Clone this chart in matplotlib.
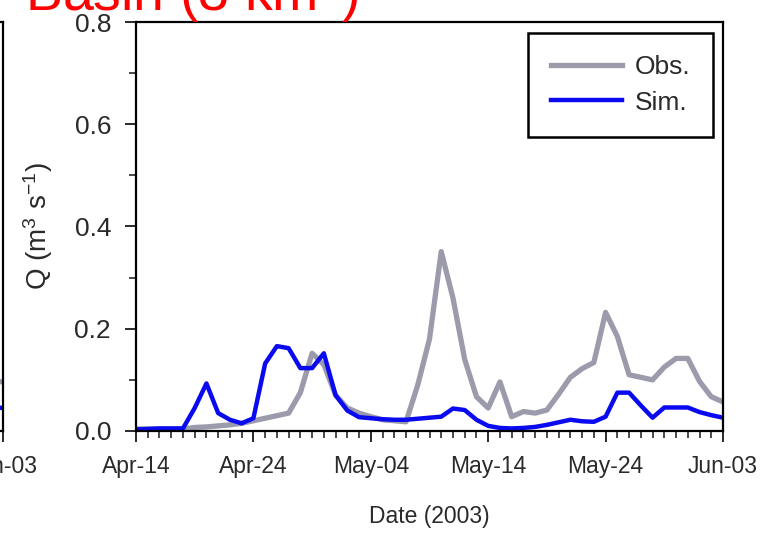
import datetime
import matplotlib
matplotlib.use("Agg")
import matplotlib.pyplot as plt
import matplotlib.dates as mdates
from matplotlib.ticker import MultipleLocator

plt.rcParams.update({
    "font.family": ["Liberation Sans", "DejaVu Sans"],
    "mathtext.default": "regular",
    "font.size": 18,
})

start = datetime.date(2003, 4, 14)
dates = [start + datetime.timedelta(days=i) for i in range(51)]

obs = [0.004, 0.004, 0.004, 0.004, 0.004, 0.007, 0.008, 0.010, 0.012, 0.015,
       0.020, 0.025, 0.030, 0.035, 0.075, 0.152, 0.130, 0.070, 0.045, 0.035,
       0.028, 0.022, 0.020, 0.018, 0.090, 0.180, 0.351, 0.260, 0.140, 0.067,
       0.045, 0.096, 0.028, 0.038, 0.035, 0.041, 0.072, 0.105, 0.122, 0.134,
       0.232, 0.185, 0.110, 0.105, 0.100, 0.125, 0.142, 0.142, 0.097, 0.067,
       0.057]
sim = [0.003, 0.004, 0.005, 0.005, 0.005, 0.045, 0.093, 0.035, 0.022, 0.015,
       0.025, 0.132, 0.166, 0.162, 0.123, 0.123, 0.152, 0.070, 0.040, 0.027,
       0.025, 0.023, 0.022, 0.022, 0.024, 0.026, 0.028, 0.044, 0.041, 0.022,
       0.010, 0.006, 0.005, 0.006, 0.008, 0.012, 0.017, 0.022, 0.019, 0.018,
       0.028, 0.075, 0.075, 0.050, 0.026, 0.046, 0.046, 0.046, 0.037, 0.031,
       0.026]

# tail of the neighbouring panel (cropped in the reference)
left_dates = [datetime.date(2003, 6, 2), datetime.date(2003, 6, 3)]
left_obs = [0.098, 0.096]
left_sim = [0.047, 0.045]

obs_color = "#9b9bab"
sim_color = "#0a0af0"
tick_color = "#2a2a2a"

W, H = 763, 536
fig = plt.figure(figsize=(W / 100, H / 100), dpi=100)

ax_l, ax_r, ax_t, ax_b = 136, 723, 22, 431
pos = [ax_l / W, (H - ax_b) / H, (ax_r - ax_l) / W, (ax_b - ax_t) / H]


def style_axes(a):
    for s in a.spines.values():
        s.set_linewidth(1.6)
    a.set_ylim(0, 0.8)
    a.set_xlim(datetime.date(2003, 4, 14), datetime.date(2003, 6, 3))
    a.yaxis.set_major_locator(MultipleLocator(0.2))
    a.yaxis.set_minor_locator(MultipleLocator(0.1))
    a.xaxis.set_minor_locator(mdates.DayLocator())
    a.xaxis.set_major_formatter(mdates.DateFormatter("%b-%d"))
    a.tick_params(which="major", direction="out", length=8, width=1.4,
                  colors=tick_color)
    a.tick_params(axis="x", which="major", pad=9, labelsize=16.5)
    a.tick_params(axis="y", which="major", pad=10, labelsize=19)
    a.tick_params(which="minor", direction="out", length=5, width=1.2,
                  colors=tick_color)


# left neighbour panel, mostly outside the figure
axL = fig.add_axes([(3 - 600) / W, pos[1], 600 / W, pos[3]])
style_axes(axL)
axL.plot(left_dates, left_obs, color=obs_color, lw=3.8)
axL.plot(left_dates, left_sim, color=sim_color, lw=3.2)
axL.set_xticks([datetime.date(2003, 6, 3)])

ax = fig.add_axes(pos)
style_axes(ax)
ax.set_xticks([start + datetime.timedelta(days=10 * i) for i in range(6)])
ax.plot(dates, obs, color=obs_color, lw=3.8, label="Obs.")
ax.plot(dates, sim, color=sim_color, lw=3.2, label="Sim.")

ax.set_xlabel("Date (2003)", fontsize=16.5, labelpad=20, color=tick_color)
ax.set_ylabel("Q (m$^3$ s$^{-1}$)", fontsize=20, labelpad=14, color=tick_color)

leg = ax.legend(loc="upper right", bbox_to_anchor=(0.983, 0.973), fancybox=False,
                edgecolor="black", framealpha=1, handlelength=2.7,
                handletextpad=0.5, borderpad=0.85, labelspacing=0.42,
                borderaxespad=0, fontsize=19)
leg.get_frame().set_linewidth(1.8)
for t in leg.get_texts():
    t.set_color(tick_color)

fig.text(25 / W, (H - 11) / H, "Basin (3 km$^2$)", color="red", fontsize=40,
         ha="left", va="baseline")

fig.savefig("out.png", dpi=100)
